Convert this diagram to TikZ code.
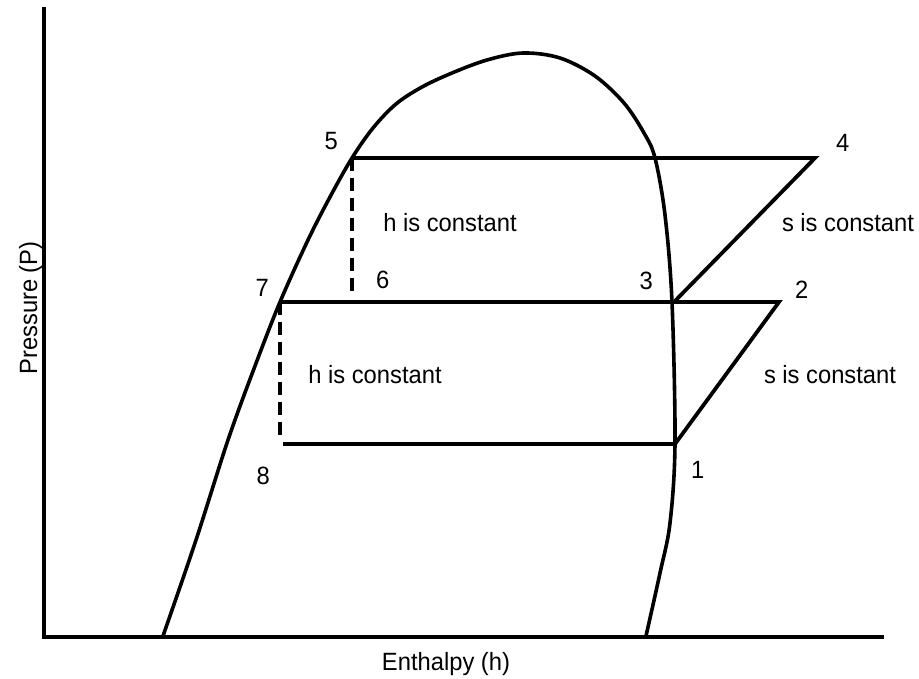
\documentclass[tikz,border=0pt]{standalone}
\usepackage{fontspec}
\setmainfont[FakeStretch=0.95]{Liberation Sans}
\usetikzlibrary{positioning}

\begin{document}
\begin{tikzpicture}[x=1pt,y=-1pt,on grid,
  dome/.style={line width=3.6pt},
  proc/.style={line width=3.8pt},
  throttle/.style={line width=3.8pt,dash pattern=on 13pt off 7pt},
  axis/.style={line width=4.2pt},
  num/.style={inner sep=0pt,font=\fontsize{25}{30}\selectfont},
  note/.style={num,anchor=base}]
  \useasboundingbox (0,0) rectangle (919,679);
  % axes
  \coordinate (o) at (44,637);
  \coordinate (ytop) at (44,7);
  \coordinate (xend) at (884,637);
  \draw[axis] (ytop) -- (o) -- (xend);
  % saturation dome
  \draw[dome] plot[smooth,tension=0.55] coordinates {(163,636) (196,540) (228,440)
    (255,366) (280,302) (308,240) (330,197) (352,158) (373,128) (396,104)
    (422,87) (452,73) (487,60) (523,53) (560,58) (595,76) (624,103)
    (644,133) (655,158) (665,215) (672,302) (675,443) (670,523) (660,573)
    (646,636)};
  % cycle points
  \coordinate (p1) at (675,444);
  \coordinate (p2) at (779,302);
  \coordinate (p3) at (674,302);
  \coordinate (p4) at (815,158);
  \coordinate (p5) at (352,158);
  \coordinate (p6) at (352,293);
  \coordinate (p7) at (280,302);
  \coordinate (p8) at (280,438);
  \coordinate (q8) at (283,444);
  \draw[proc] (p5) -- (p4) -- (p3);
  \draw[proc] (p7) -- (p2) -- (p1);
  \draw[proc] (q8) -- (p1);
  \draw[throttle] (p5) -- (p6);
  \draw[throttle] (p7) -- (p8);
  % point numbers
  \node[num,above left=8pt and 14pt of p5] (n5) {5};
  \node[num,above right=6pt and 21pt of p4] (n4) {4};
  \node[num,above left=12pt and 21pt of p3] (n3) {3};
  \node[num,above right=3pt and 16pt of p2] (n2) {2};
  \node[num,above left=5pt and 11pt of p7] (n7) {7};
  \node[num,above right=4pt and 24pt of p6] (n6) {6};
  \node[num,below left=23pt and 13pt of q8] (n8) {8};
  \node[num,below right=17pt and 16pt of p1] (n1) {1};
  % notes
  \node[note] (h1) at (450,232) {h is constant};
  \node[note] (s1) at (848,232) {s is constant};
  \node[note] (h2) at (375,383) {h is constant};
  \node[note] (s2) at (830,383) {s is constant};
  \node[note] (xlab) at (446,670) {Enthalpy (h)};
  \node[note,rotate=90] (ylab) at (37,308) {Pressure (P)};
\end{tikzpicture}
\end{document}
